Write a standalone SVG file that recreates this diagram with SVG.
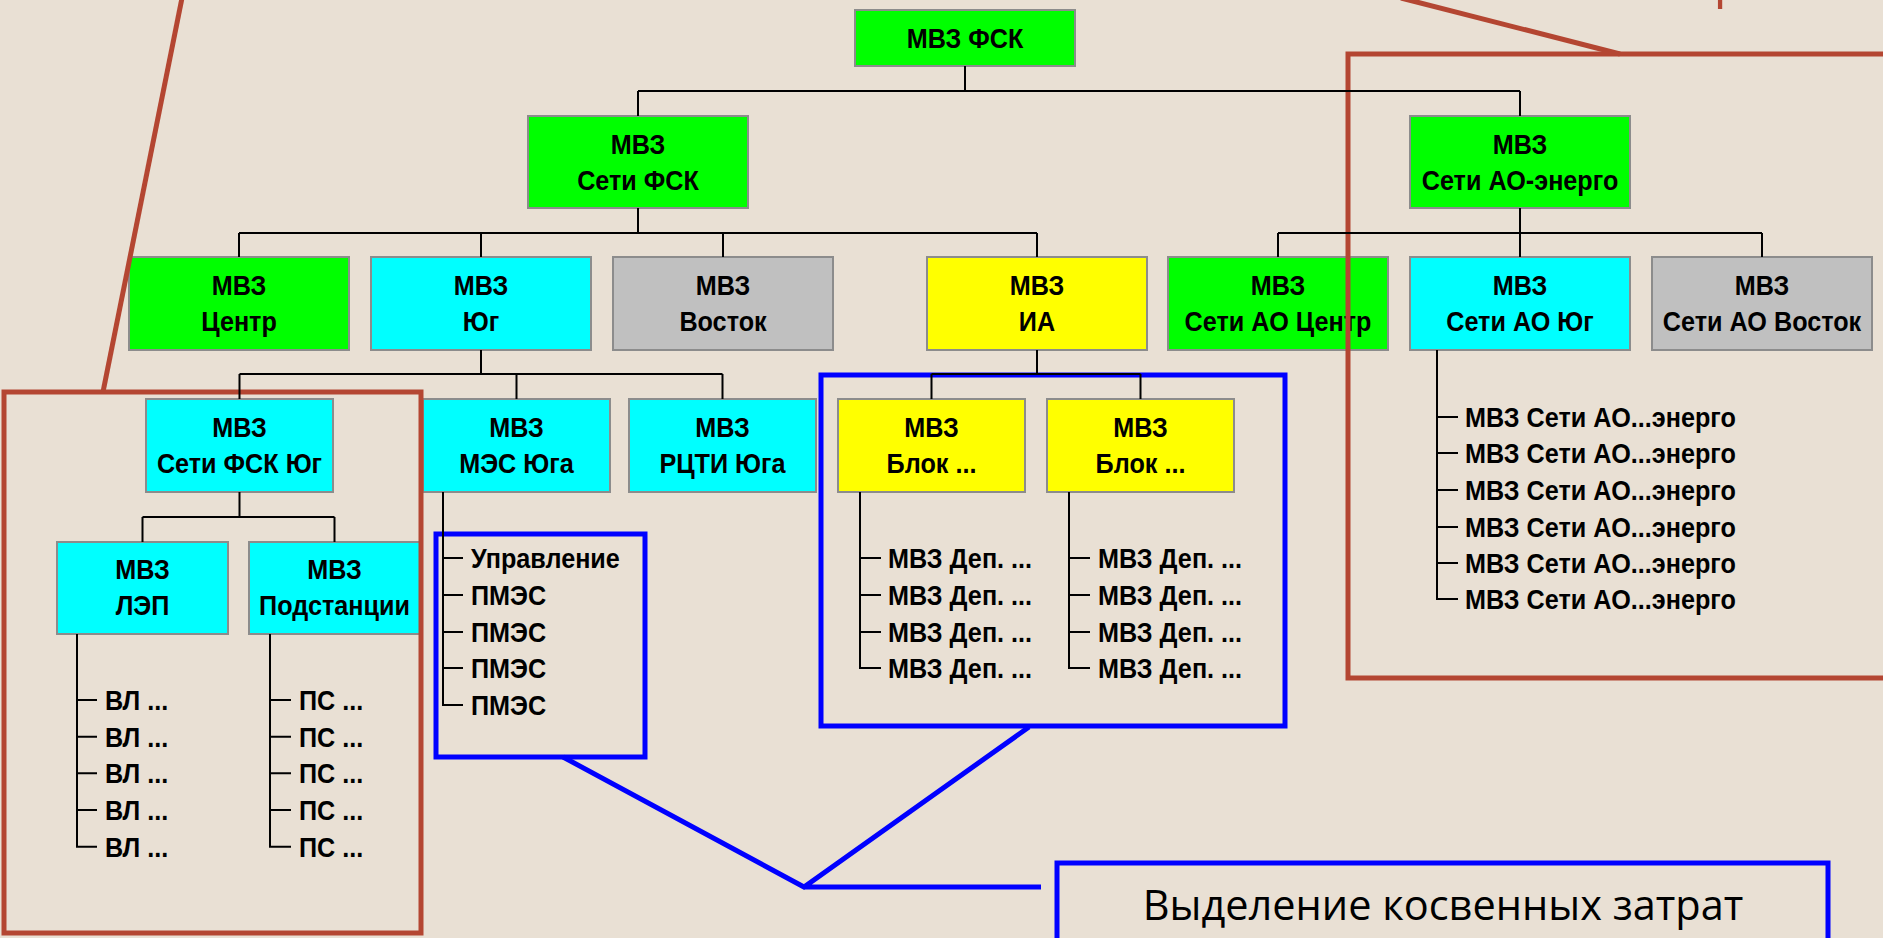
<svg xmlns="http://www.w3.org/2000/svg" width="1883" height="938" viewBox="0 0 1883 938">
<style>
.bg{fill:#E9E0D4}
.box{stroke:#8C8C8C;stroke-width:2}
.g{fill:#00FF00}.c{fill:#00FFFF}.s{fill:#C0C0C0}.y{fill:#FFFF00}
.t{font-family:"Liberation Sans",Arial,sans-serif;font-weight:bold;font-size:28px;fill:#000;text-anchor:middle}
.l{font-family:"Liberation Sans",Arial,sans-serif;font-weight:bold;font-size:28px;fill:#000;text-anchor:start}
.conn{stroke:#000;stroke-width:2;fill:none}
.red{stroke:#B44632;stroke-width:5;fill:none}
.blue{stroke:#0000FF;stroke-width:5;fill:none}
.cap{font-family:"Open Sans","DejaVu Sans",sans-serif;font-size:41.5px;fill:#000;text-anchor:middle}
.rcap{font-family:"Open Sans","DejaVu Sans",sans-serif;font-size:52px;fill:#B44632}
</style>
<rect class="bg" x="0" y="0" width="1883" height="938"/>

<g id="n-fsk"><rect class="box g" x="855" y="10" width="220" height="56"/><text class="t" transform="translate(965 48) scale(0.9 1)">МВЗ ФСК</text></g>
<g id="n-seti-fsk"><rect class="box g" x="528" y="116" width="220" height="92"/><text class="t" transform="translate(638 153.5) scale(0.9 1)"><tspan x="0" y="0">МВЗ</tspan><tspan x="0" y="36.5">Сети ФСК</tspan></text></g>
<g id="n-ao-energo"><rect class="box g" x="1410" y="116" width="220" height="92"/><text class="t" transform="translate(1520 153.5) scale(0.9 1)"><tspan x="0" y="0">МВЗ</tspan><tspan x="0" y="36.5">Сети АО-энерго</tspan></text></g>

<g id="n-centr"><rect class="box g" x="129" y="257" width="220" height="93"/><text class="t" transform="translate(239 295) scale(0.9 1)"><tspan x="0" y="0">МВЗ</tspan><tspan x="0" y="36.5">Центр</tspan></text></g>
<g id="n-yug"><rect class="box c" x="371" y="257" width="220" height="93"/><text class="t" transform="translate(481 295) scale(0.9 1)"><tspan x="0" y="0">МВЗ</tspan><tspan x="0" y="36.5">Юг</tspan></text></g>
<g id="n-vostok"><rect class="box s" x="613" y="257" width="220" height="93"/><text class="t" transform="translate(723 295) scale(0.9 1)"><tspan x="0" y="0">МВЗ</tspan><tspan x="0" y="36.5">Восток</tspan></text></g>
<g id="n-ia"><rect class="box y" x="927" y="257" width="220" height="93"/><text class="t" transform="translate(1037 295) scale(0.9 1)"><tspan x="0" y="0">МВЗ</tspan><tspan x="0" y="36.5">ИА</tspan></text></g>
<g id="n-ao-centr"><rect class="box g" x="1168" y="257" width="220" height="93"/><text class="t" transform="translate(1278 295) scale(0.9 1)"><tspan x="0" y="0">МВЗ</tspan><tspan x="0" y="36.5">Сети АО Центр</tspan></text></g>
<g id="n-ao-yug"><rect class="box c" x="1410" y="257" width="220" height="93"/><text class="t" transform="translate(1520 295) scale(0.9 1)"><tspan x="0" y="0">МВЗ</tspan><tspan x="0" y="36.5">Сети АО Юг</tspan></text></g>
<g id="n-ao-vostok"><rect class="box s" x="1652" y="257" width="220" height="93"/><text class="t" transform="translate(1762 295) scale(0.9 1)"><tspan x="0" y="0">МВЗ</tspan><tspan x="0" y="36.5">Сети АО Восток</tspan></text></g>

<g id="n-fsk-yug"><rect class="box c" x="146" y="399" width="187" height="93"/><text class="t" transform="translate(239.5 437) scale(0.9 1)"><tspan x="0" y="0">МВЗ</tspan><tspan x="0" y="36.5">Сети ФСК Юг</tspan></text></g>
<g id="n-mes"><rect class="box c" x="423" y="399" width="187" height="93"/><text class="t" transform="translate(516.5 437) scale(0.9 1)"><tspan x="0" y="0">МВЗ</tspan><tspan x="0" y="36.5">МЭС Юга</tspan></text></g>
<g id="n-rcti"><rect class="box c" x="629" y="399" width="187" height="93"/><text class="t" transform="translate(722.5 437) scale(0.9 1)"><tspan x="0" y="0">МВЗ</tspan><tspan x="0" y="36.5">РЦТИ Юга</tspan></text></g>
<g id="n-blok1"><rect class="box y" x="838" y="399" width="187" height="93"/><text class="t" transform="translate(931.5 437) scale(0.9 1)"><tspan x="0" y="0">МВЗ</tspan><tspan x="0" y="36.5">Блок ...</tspan></text></g>
<g id="n-blok2"><rect class="box y" x="1047" y="399" width="187" height="93"/><text class="t" transform="translate(1140.5 437) scale(0.9 1)"><tspan x="0" y="0">МВЗ</tspan><tspan x="0" y="36.5">Блок ...</tspan></text></g>

<g id="n-lep"><rect class="box c" x="57" y="542" width="171" height="92"/><text class="t" transform="translate(142.5 579) scale(0.9 1)"><tspan x="0" y="0">МВЗ</tspan><tspan x="0" y="36.5">ЛЭП</tspan></text></g>
<g id="n-ps"><rect class="box c" x="249" y="542" width="171" height="92"/><text class="t" transform="translate(334.5 579) scale(0.9 1)"><tspan x="0" y="0">МВЗ</tspan><tspan x="0" y="36.5">Подстанции</tspan></text></g>

<g id="list-vl">
<text class="l" transform="translate(105 710) scale(0.9 1)">ВЛ ...</text>
<text class="l" transform="translate(105 746.7) scale(0.9 1)">ВЛ ...</text>
<text class="l" transform="translate(105 783.3) scale(0.9 1)">ВЛ ...</text>
<text class="l" transform="translate(105 820) scale(0.9 1)">ВЛ ...</text>
<text class="l" transform="translate(105 856.7) scale(0.9 1)">ВЛ ...</text>
</g>
<g id="list-ps">
<text class="l" transform="translate(299 710) scale(0.9 1)">ПС ...</text>
<text class="l" transform="translate(299 746.7) scale(0.9 1)">ПС ...</text>
<text class="l" transform="translate(299 783.3) scale(0.9 1)">ПС ...</text>
<text class="l" transform="translate(299 820) scale(0.9 1)">ПС ...</text>
<text class="l" transform="translate(299 856.7) scale(0.9 1)">ПС ...</text>
</g>
<g id="list-pmes">
<text class="l" transform="translate(471 568) scale(0.9 1)">Управление</text>
<text class="l" transform="translate(471 605) scale(0.9 1)">ПМЭС</text>
<text class="l" transform="translate(471 642) scale(0.9 1)">ПМЭС</text>
<text class="l" transform="translate(471 678) scale(0.9 1)">ПМЭС</text>
<text class="l" transform="translate(471 715) scale(0.9 1)">ПМЭС</text>
</g>
<g id="list-blok1">
<text class="l" transform="translate(888 568) scale(0.9 1)">МВЗ Деп. ...</text>
<text class="l" transform="translate(888 605) scale(0.9 1)">МВЗ Деп. ...</text>
<text class="l" transform="translate(888 642) scale(0.9 1)">МВЗ Деп. ...</text>
<text class="l" transform="translate(888 678) scale(0.9 1)">МВЗ Деп. ...</text>
</g>
<g id="list-blok2">
<text class="l" transform="translate(1098 568) scale(0.9 1)">МВЗ Деп. ...</text>
<text class="l" transform="translate(1098 605) scale(0.9 1)">МВЗ Деп. ...</text>
<text class="l" transform="translate(1098 642) scale(0.9 1)">МВЗ Деп. ...</text>
<text class="l" transform="translate(1098 678) scale(0.9 1)">МВЗ Деп. ...</text>
</g>
<g id="list-ao">
<text class="l" transform="translate(1465 427) scale(0.9 1)">МВЗ Сети АО...энерго</text>
<text class="l" transform="translate(1465 463) scale(0.9 1)">МВЗ Сети АО...энерго</text>
<text class="l" transform="translate(1465 500) scale(0.9 1)">МВЗ Сети АО...энерго</text>
<text class="l" transform="translate(1465 537) scale(0.9 1)">МВЗ Сети АО...энерго</text>
<text class="l" transform="translate(1465 573) scale(0.9 1)">МВЗ Сети АО...энерго</text>
<text class="l" transform="translate(1465 609) scale(0.9 1)">МВЗ Сети АО...энерго</text>
</g>

<g id="highlights">
<path class="red" d="M182 -2 L103 392"/>
<rect class="red" x="4" y="392" width="417" height="541"/>
<path class="red" d="M1401 -2 L1620 54"/>
<rect class="red" x="1348" y="54" width="560" height="624"/>
<rect class="blue" x="436" y="534" width="209" height="223"/>
<rect class="blue" x="821" y="375" width="464" height="351"/>
<path class="blue" d="M563 757 L804 887 L1029 727 M804 887 H1041"/>
<g id="n-note"><rect class="blue" x="1057" y="863" width="771" height="90"/><text class="cap" x="1443" y="920">Выделение косвенных затрат</text></g>
<text class="rcap" x="1635" y="-3">затрат</text>
</g>

<g id="connectors">
<path class="conn" d="M965 66 V91 M638 91 H1520 M638 91 V116 M1520 91 V116"/>
<path class="conn" d="M638 208 V233 M239 233 H1037 M239 233 V257 M481 233 V257 M723 233 V257 M1037 233 V257"/>
<path class="conn" d="M1520 208 V257 M1278 233 H1762 M1278 233 V257 M1762 233 V257"/>
<path class="conn" d="M481 350 V374 M239.5 374 H722.5 M239.5 374 V399 M516.5 374 V399 M722.5 374 V399"/>
<path class="conn" d="M1037 350 V374 M931.5 374 H1140.5 M931.5 374 V399 M1140.5 374 V399"/>
<path class="conn" d="M239.5 492 V517 M142.5 517 H334.5 M142.5 517 V542 M334.5 517 V542"/>
<path class="conn" d="M77 634 V846.7 H97 M77 700 H97 M77 736.7 H97 M77 773.3 H97 M77 810 H97"/>
<path class="conn" d="M270 634 V846.7 H291 M270 700 H291 M270 736.7 H291 M270 773.3 H291 M270 810 H291"/>
<path class="conn" d="M443 492 V705 H463 M443 558 H463 M443 595 H463 M443 632 H463 M443 668 H463"/>
<path class="conn" d="M860 492 V668 H881 M860 558 H881 M860 595 H881 M860 632 H881"/>
<path class="conn" d="M1069 492 V668 H1090 M1069 558 H1090 M1069 595 H1090 M1069 632 H1090"/>
<path class="conn" d="M1437 350 V599 H1458 M1437 417 H1458 M1437 453 H1458 M1437 490 H1458 M1437 527 H1458 M1437 563 H1458"/>
</g>
</svg>
